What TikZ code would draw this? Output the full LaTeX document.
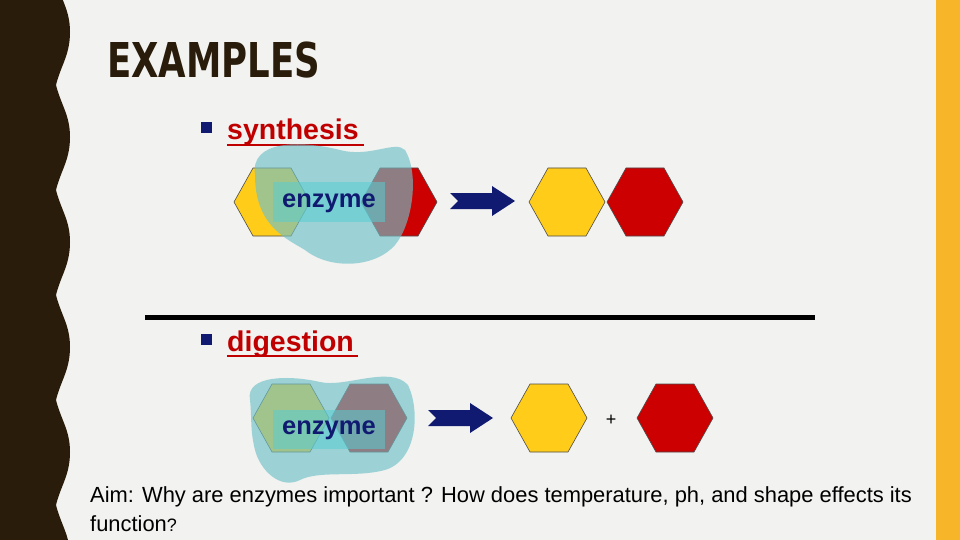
\documentclass[tikz,border=0pt]{standalone}
\usepackage{fontspec}
\setmainfont{Liberation Sans}
\newfontfamily\titlefont{DejaVu Sans}
\usetikzlibrary{shapes.geometric}
\definecolor{bg}{HTML}{F2F2F0}
\definecolor{dark}{HTML}{2A1C0A}
\definecolor{gold}{HTML}{F7B52A}
\definecolor{hexy}{HTML}{FFCC1A}
\definecolor{hexr}{HTML}{CC0000}
\definecolor{navy}{HTML}{101A70}
\definecolor{teal}{HTML}{6EC1C8}
\definecolor{redtxt}{HTML}{C00000}
\tikzset{
 hexshape/.style={draw=black!70,line width=0.6pt},
 blob/.style={fill=teal,fill opacity=0.65,draw=none},
 ebox/.style={fill=teal!80!cyan,fill opacity=0.55,draw=none,minimum width=112pt,minimum height=39pt,inner sep=0pt},
 etext/.style={text=navy,font=\fontsize{25.5}{27}\selectfont\bfseries},
 bul/.style={fill=navy,minimum size=11pt,inner sep=0pt},
 head/.style={text=redtxt,font=\fontsize{28.5}{30}\selectfont\bfseries,anchor=base west,inner sep=0pt},
 aimtext/.style={anchor=base west,inner sep=0pt,font=\fontsize{21.9}{25}\selectfont},
 bigarrow/.style={fill=navy}
}
\newcommand{\hexa}[4]{\fill[#3] (#1-38,#2) -- (#1-19,#2-34) -- (#1+19,#2-34) -- (#1+38,#2) -- (#1+19,#2+34) -- (#1-19,#2+34) -- cycle;
 \draw[hexshape] (#1-38,#2) -- (#1-19,#2-34) -- (#1+19,#2-34) -- (#1+38,#2) -- (#1+19,#2+34) -- (#1-19,#2+34) -- cycle;}
\newcommand{\arr}[3]{\fill[bigarrow] (#1,#2-8) -- (#1+42,#2-8) -- (#1+42,#2-15) -- (#1+65,#2) -- (#1+42,#2+15) -- (#1+42,#2+8) -- (#1,#2+8) -- (#1+8,#2) -- cycle;}
\begin{document}
\begin{tikzpicture}[x=1pt,y=-1pt]
\useasboundingbox (0,0) rectangle (960,540);
\fill[bg] (0,0) rectangle (960,540);
\fill[gold] (936,0) rectangle (960,540);
\fill[dark] (0,-20) -- (56,-20)
 \foreach \k in {0,...,5} { .. controls (61,\k*105) and (70,\k*105+10) .. (70,\k*105+32) .. controls (70,\k*105+55) and (61,\k*105+65) .. (56,\k*105+85) }
 -- (0,560) -- cycle;
\node[anchor=base west,inner sep=0pt,text=dark,font=\titlefont\fontsize{48}{50}\selectfont\bfseries,xscale=0.74] (title) at (107,78) {EXAMPLES};
% synthesis
\node[bul] (b1) at (206,128) {};
\node[head] (syn) at (227,140) {synthesis};
\draw[redtxt,line width=1.5pt] (227,145) -- (364,145);
\hexa{272}{202}{hexy}{y1}
\hexa{399}{202}{hexr}{r1}
\fill[blob] (255,175) .. controls (250,140) and (300,140) .. (340,150) .. controls (370,158) and (395,140) .. (405,150) .. controls (420,175) and (412,225) .. (395,245) .. controls (375,268) and (330,270) .. (305,250) .. controls (285,238) and (255,225) .. (255,175) -- cycle;
\node[ebox] (e1) at (329,202) {};
\node[etext] (t1) at (329,203) {enzyme};
\arr{450}{201}{a1}
\hexa{567}{202}{hexy}{y2}
\hexa{645}{202}{hexr}{r2}
\draw[black,line width=5pt] (145,317) -- (815,317);
% digestion
\node[bul] (b2) at (206,339) {};
\node[head] (dig) at (227,351) {digestion};
\draw[redtxt,line width=1.5pt] (227,356) -- (358,356);
\hexa{291}{418}{hexy}{y3}
\hexa{369}{418}{hexr}{r3}
\fill[blob] (250,400) .. controls (245,375) and (290,375) .. (320,382) .. controls (345,388) and (390,365) .. (408,385) .. controls (420,410) and (418,460) .. (385,470) .. controls (355,478) and (320,470) .. (300,480) .. controls (280,490) and (260,470) .. (255,450) .. controls (250,430) and (252,420) .. (250,400) -- cycle;
\node[ebox] (e2) at (329,429) {};
\node[etext] (t2) at (329,430) {enzyme};
\arr{428}{418}{a2}
\hexa{549}{418}{hexy}{y4}
\node[font=\fontsize{18}{20}\selectfont] (plus) at (611,420) {+};
\hexa{675}{418}{hexr}{r4}
\node[aimtext] (aim1) at (90,502) {Aim: Why are enzymes important ? How does temperature, ph, and shape effects its};
\node[aimtext] (aim2) at (90,531) {function{\fontsize{18}{20}\selectfont ?}};
\end{tikzpicture}
\end{document}
